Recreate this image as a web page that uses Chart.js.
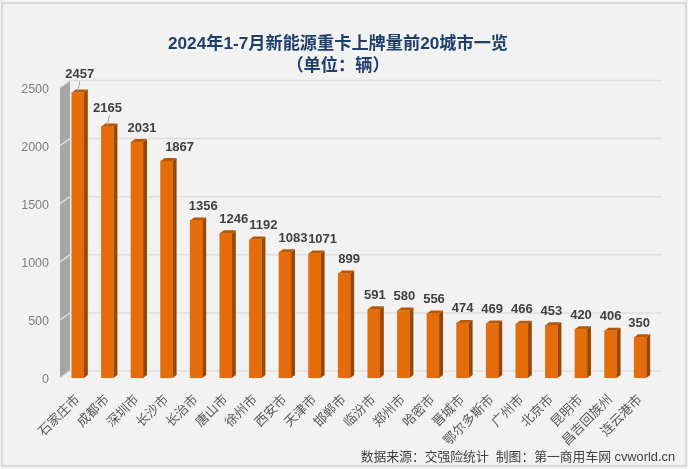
<!DOCTYPE html>
<html>
<head>
<meta charset="utf-8">
<style>
html, body { margin: 0; padding: 0; background: #fff; }
canvas { display: block; }
</style>
<script src="https://cdn.jsdelivr.net/npm/chart.js@4/dist/chart.umd.js"></script>
</head>
<body>
<canvas id="chart" width="688" height="469"></canvas>
<script>
// data
var cities = ["石家庄市", "成都市", "深圳市", "长沙市", "长治市", "唐山市", "徐州市", "西安市", "天津市", "邯郸市",
    "临汾市", "郑州市", "哈密市", "晋城市", "鄂尔多斯市", "广州市", "北京市", "昆明市", "昌吉回族州", "连云港市"];
var sales = [2457, 2165, 2031, 1867, 1356, 1246, 1192, 1083, 1071, 899,
    591, 580, 556, 474, 469, 466, 453, 420, 406, 350];
var yTicks = [0, 500, 1000, 1500, 2000, 2500];
var titleLines = ["2024年1-7月新能源重卡上牌量前20城市一览", "（单位：辆）"];
var sourceNote = "数据来源：交强险统计  制图：第一商用车网 cvworld.cn";

// label shift in px from the bar centre, as placed in the original
var labelShiftX = [2, 0, 5, 13, 7, 8, 8, 8, 8, 5, 1, 1, 1, 0, 0, 0, 0, 0, 0, -1];

var cjk = '"Liberation Sans", "Noto Sans CJK SC", sans-serif';
var depthX = 4, depthY = 3;   // bar depth
var wallX = 10, wallY = 7;    // side wall depth

function poly(ctx, pts, color) {
    ctx.fillStyle = color;
    ctx.beginPath();
    ctx.moveTo(pts[0][0], pts[0][1]);
    for (var i = 1; i < pts.length; i++) ctx.lineTo(pts[i][0], pts[i][1]);
    ctx.closePath();
    ctx.fill();
}

var frame3d = {
    id: "frame3d",
    beforeDraw: function (chart) {
        var ctx = chart.ctx;
        ctx.save();
        ctx.fillStyle = "#f2f2f2";
        ctx.fillRect(0, 0, 688, 469);
        ctx.strokeStyle = "#d9d9d9";
        ctx.lineWidth = 2;
        ctx.strokeRect(2, 3, 684, 463);
        ctx.restore();
    },
    beforeDatasetsDraw: function (chart) {
        var ctx = chart.ctx, y = chart.scales.y, a = chart.chartArea;
        var left = a.left - 3, right = a.right + 7;
        ctx.save();
        // grey side wall
        poly(ctx, [[left, y.getPixelForValue(0)], [left + wallX, y.getPixelForValue(0) - wallY],
            [left + wallX, y.getPixelForValue(2500) - wallY], [left, y.getPixelForValue(2500)]], "#a6a6a6");
        // grid on back wall and its step across the side wall
        ctx.strokeStyle = "#dedede";
        ctx.lineWidth = 1.5;
        yTicks.forEach(function (v) {
            var py = y.getPixelForValue(v);
            ctx.beginPath();
            ctx.moveTo(left, py);
            ctx.lineTo(left + wallX, py - wallY);
            ctx.lineTo(right, py - wallY);
            ctx.stroke();
        });
        // side and top faces of the bars
        chart.getDatasetMeta(0).data.forEach(function (bar) {
            var l = bar.x - bar.width / 2, r = bar.x + bar.width / 2;
            poly(ctx, [[r, bar.y], [r + depthX, bar.y - depthY], [r + depthX, bar.base - depthY], [r, bar.base]], "#964806");
            poly(ctx, [[l, bar.y], [l + depthX, bar.y - depthY], [r + depthX, bar.y - depthY], [r, bar.y]], "#b45808");
        });
        ctx.restore();
    },
    afterDatasetsDraw: function (chart) {
        var ctx = chart.ctx;
        ctx.save();
        // value labels
        ctx.textAlign = "center";
        ctx.textBaseline = "middle";
        ctx.font = 'bold 13px "Liberation Sans", sans-serif';
        chart.getDatasetMeta(0).data.forEach(function (bar, i) {
            var lift = i < 2 ? 18 : 14;
            if (i < 2) {
                ctx.strokeStyle = "#a6a6a6";
                ctx.lineWidth = 1;
                ctx.beginPath();
                ctx.moveTo(bar.x + 2, bar.y - 11);
                ctx.lineTo(bar.x, bar.y - 1);
                ctx.stroke();
            }
            ctx.fillStyle = "#404040";
            ctx.fillText(sales[i], bar.x + labelShiftX[i], bar.y - lift);
        });
        // title
        ctx.fillStyle = "#1f3f6b";
        ctx.font = "bold 17.2px " + cjk;
        ctx.fillText(titleLines[0], 338, 44.5);
        ctx.fillText(titleLines[1], 338, 66);
        // source note
        ctx.textAlign = "right";
        ctx.fillStyle = "#404040";
        ctx.font = "12.8px " + cjk;
        ctx.fillText(sourceNote, 675, 457);
        ctx.restore();
    }
};

new Chart(document.getElementById("chart").getContext("2d"), {
    type: "bar",
    data: {
        labels: cities,
        datasets: [{
            data: sales,
            backgroundColor: "#e46c0a",
            borderWidth: 0,
            barThickness: 12
        }]
    },
    plugins: [frame3d],
    options: {
        responsive: false,
        animation: false,
        layout: { padding: { top: 87.5, right: 33, left: 0, bottom: 0 } },
        plugins: { legend: { display: false }, title: { display: false }, tooltip: { enabled: false } },
        scales: {
            x: {
                grid: { display: false },
                border: { display: false },
                afterFit: function (s) { s.height = 91; },
                ticks: {
                    autoSkip: false,
                    minRotation: 45,
                    maxRotation: 45,
                    padding: 6,
                    color: "#595959",
                    font: { size: 13, family: cjk }
                }
            },
            y: {
                min: 0,
                max: 2500,
                grid: { display: false, drawTicks: false },
                border: { display: false },
                afterFit: function (s) { s.width = 63; },
                afterBuildTicks: function (s) { s.ticks = yTicks.map(function (v) { return { value: v }; }); },
                ticks: {
                    padding: 14,
                    labelOffset: 2,
                    color: "#7f7f7f",
                    font: { size: 12.5, family: '"Liberation Sans", sans-serif' },
                    callback: function (v) { return String(v); }
                }
            }
        }
    }
});
</script>
</body>
</html>
